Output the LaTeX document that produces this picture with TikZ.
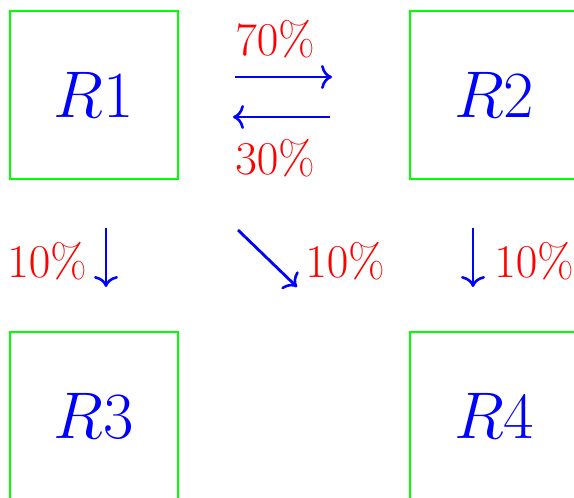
\RequirePackage{fix-cm}
\documentclass[tikz,border=0pt]{standalone}
\usetikzlibrary{arrows.meta}
\definecolor{boxgreen}{RGB}{0,255,0}
\definecolor{txtblue}{RGB}{0,0,255}
\definecolor{pctred}{RGB}{255,0,0}
\tikzset{
  regbox/.style={draw=boxgreen, line width=2pt, minimum size=168pt, inner sep=0pt,
    text=txtblue, font=\fontsize{66}{78}\selectfont},
  pct/.style={text=pctred, inner sep=0pt, font=\fontsize{47}{56}\selectfont},
  flow/.style={draw=txtblue, line width=2.8pt, -{Computer Modern Rightarrow[length=11pt,width=24pt,line width=2.6pt]}}
}
\begin{document}
\begin{tikzpicture}[x=1pt,y=-1pt]
\useasboundingbox (0,0) rectangle (574,498);
\node[regbox] (r1) at (94,94.5) {$R1$};
\node[regbox] (r2) at (494,94.5) {$R2$};
\node[regbox] (r3) at (94,416) {$R3$};
\node[regbox] (r4) at (494,416) {$R4$};
\node[pct] (p70) at (275,39) {$70\%$};
\node[pct] (p30) at (275,158) {$30\%$};
\node[pct] (p13) at (47,261) {$10\%$};
\node[pct] (p14) at (345,261) {$10\%$};
\node[pct] (p24) at (534,261) {$10\%$};
\coordinate (a1s) at (235,77);
\coordinate (a1e) at (332,77);
\coordinate (a2s) at (330,117);
\coordinate (a2e) at (233,117);
\coordinate (a3s) at (106,228);
\coordinate (a3e) at (106,287);
\coordinate (a4s) at (238,230);
\coordinate (a4e) at (297,287);
\coordinate (a5s) at (473,228);
\coordinate (a5e) at (473,287);
\draw[flow] (a1s) -- (a1e);
\draw[flow] (a2s) -- (a2e);
\draw[flow] (a3s) -- (a3e);
\draw[flow] (a4s) -- (a4e);
\draw[flow] (a5s) -- (a5e);
\end{tikzpicture}
\end{document}
